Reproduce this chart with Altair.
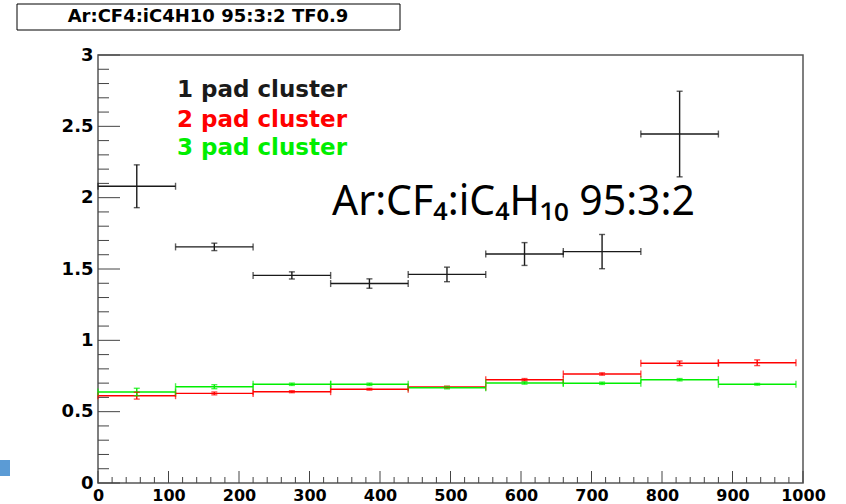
import altair as alt
import pandas as pd

# ---- data ----
bin_lo = [0, 110, 220, 330, 440, 550, 660, 770, 880]
bin_hi = [110, 220, 330, 440, 550, 660, 770, 880, 990]
bin_c = [55, 165, 275, 385, 495, 605, 715, 825, 935]

pad1_y = [2.08, 1.655, 1.455, 1.398, 1.462, 1.605, 1.622, 2.446]
pad1_err = [0.15, 0.026, 0.025, 0.033, 0.051, 0.08, 0.12, 0.30]

pad2_y = [0.612, 0.628, 0.640, 0.657, 0.673, 0.724, 0.764, 0.839, 0.843]
pad2_err = [0.024, 0.010, 0.007, 0.006, 0.006, 0.008, 0.008, 0.016, 0.020]

pad3_y = [0.638, 0.675, 0.692, 0.692, 0.668, 0.701, 0.699, 0.724, 0.692]
pad3_err = [0.026, 0.014, 0.008, 0.008, 0.008, 0.008, 0.008, 0.008, 0.006]

series_names = ["1 pad cluster", "2 pad cluster", "3 pad cluster"]
series_colors = ["#1a1a1a", "#ff0000", "#00ee00"]
legend_baselines = [42, 72, 100]

x_major = [0, 100, 200, 300, 400, 500, 600, 700, 800, 900, 1000]
x_minor = [20, 40, 60, 80, 120, 140, 160, 180, 220, 240, 260, 280, 320, 340, 360, 380,
           420, 440, 460, 480, 520, 540, 560, 580, 620, 640, 660, 680, 720, 740, 760, 780,
           820, 840, 860, 880, 920, 940, 960, 980]
y_major = [0, 0.5, 1, 1.5, 2, 2.5, 3]
y_minor = [0.1, 0.2, 0.3, 0.4, 0.6, 0.7, 0.8, 0.9, 1.1, 1.2, 1.3, 1.4, 1.6, 1.7, 1.8, 1.9,
           2.1, 2.2, 2.3, 2.4, 2.6, 2.7, 2.8, 2.9]

title_text = "Ar:CF4:iC4H10 95:3:2 TF0.9"
annot_text = "Ar:CF\u2084:iC\u2084H\u2081\u2080 95:3:2"

# ---- build table ----
rows = []
for name, ys_, es in [(series_names[0], pad1_y, pad1_err),
                      (series_names[1], pad2_y, pad2_err),
                      (series_names[2], pad3_y, pad3_err)]:
    for i, (y, e) in enumerate(zip(ys_, es)):
        rows.append(dict(series=name, xlo=bin_lo[i], xhi=bin_hi[i], xc=bin_c[i],
                         y=y, ylo=y - e, yhi=y + e))
df = pd.DataFrame(rows)

W, H = 705, 428
FONT = "DejaVu Sans"

xs = alt.Scale(domain=[0, 1000], nice=False, zero=False)
ys = alt.Scale(domain=[0, 3], nice=False, zero=False)

xaxis = alt.Axis(values=x_major, format="d", ticks=False, domain=False, grid=False,
                 labelFont=FONT, labelFontWeight="bold", labelFontSize=16,
                 labelColor="#000", labelPadding=4, title=None, labelFlush=False,
                 labelOverlap=False)
yaxis = alt.Axis(values=y_major, format="~g", ticks=False, domain=False, grid=False,
                 labelFont=FONT, labelFontWeight="bold", labelFontSize=18,
                 labelColor="#000", labelPadding=5, title=None, labelFlush=False,
                 labelOverlap=False)

color = alt.Color("series:N", scale=alt.Scale(domain=series_names, range=series_colors),
                  legend=None)


def X(f):
    return alt.X(f, type="quantitative", scale=xs, axis=xaxis)


def Y(f):
    return alt.Y(f, type="quantitative", scale=ys, axis=yaxis)


base = alt.Chart(df)
SW = 1.4

hbar = base.mark_rule(strokeWidth=SW).encode(x=X("xlo"), x2="xhi", y=Y("y"), color=color)
vbar = base.mark_rule(strokeWidth=SW).encode(x=X("xc"), y=Y("ylo"), y2="yhi", color=color)
cap_l = base.mark_tick(orient="vertical", size=7, thickness=SW).encode(x=X("xlo"), y=Y("y"), color=color)
cap_r = base.mark_tick(orient="vertical", size=7, thickness=SW).encode(x=X("xhi"), y=Y("y"), color=color)
cap_b = base.mark_tick(orient="horizontal", size=6, thickness=SW).encode(x=X("xc"), y=Y("ylo"), color=color)
cap_t = base.mark_tick(orient="horizontal", size=6, thickness=SW).encode(x=X("xc"), y=Y("yhi"), color=color)

# ROOT-style inward ticks
tick_col = "#444"
ymaj = alt.Chart(pd.DataFrame({"v": y_major})).mark_rule(color=tick_col, strokeWidth=1).encode(
    y=Y("v"), x=alt.value(0), x2=alt.value(22))
ymin = alt.Chart(pd.DataFrame({"v": y_minor})).mark_rule(color=tick_col, strokeWidth=1).encode(
    y=Y("v"), x=alt.value(0), x2=alt.value(11))
xmaj = alt.Chart(pd.DataFrame({"v": x_major})).mark_rule(color=tick_col, strokeWidth=1).encode(
    x=X("v"), y=alt.value(H), y2=alt.value(H - 12))
xmin = alt.Chart(pd.DataFrame({"v": x_minor})).mark_rule(color=tick_col, strokeWidth=1).encode(
    x=X("v"), y=alt.value(H), y2=alt.value(H - 6))

# legend text (one text layer per entry)
legend_layers = []
for name, col, yb in zip(series_names, series_colors, legend_baselines):
    legend_layers.append(
        alt.Chart(pd.DataFrame({"t": [name]})).mark_text(
            font=FONT, fontWeight="bold", fontSize=23, align="left",
            baseline="alphabetic", color=col).encode(
            x=alt.value(79), y=alt.value(yb), text="t:N"))

# big annotation
annot = alt.Chart(pd.DataFrame({"t": [annot_text]})).mark_text(
    font="Noto Sans", fontSize=41, align="left", baseline="alphabetic", color="#000").encode(
    x=alt.value(234), y=alt.value(160), text="t:N")

# title box
tbox = alt.Chart(pd.DataFrame({"t": [title_text]})).mark_rect(
    fill="white", stroke="#000", strokeWidth=1).encode(
    x=alt.value(-81), x2=alt.value(302), y=alt.value(-51), y2=alt.value(-25))
ttext = alt.Chart(pd.DataFrame({"t": [title_text]})).mark_text(
    font=FONT, fontWeight="bold", fontSize=18, align="center", baseline="middle",
    color="#000").encode(x=alt.value(110), y=alt.value(-38), text="t:N")

# small blue square (slide artifact)
blue = alt.Chart(pd.DataFrame({"t": ["s"]})).mark_rect(fill="#5b9bd5").encode(
    x=alt.value(-98), x2=alt.value(-88), y=alt.value(405), y2=alt.value(421))

chart = alt.layer(
    ymin, ymaj, xmin, xmaj,
    hbar, cap_l, cap_r, vbar, cap_b, cap_t,
    *legend_layers, annot, tbox, ttext, blue
).properties(
    width=W, height=H,
    autosize=alt.AutoSizeParams(type="none"),
    padding={"left": 98, "top": 55, "right": 43, "bottom": 21},
    background="white",
).configure_view(stroke="#555", strokeWidth=1.5)

chart.save("out.html", embed_options={"renderer": "svg", "actions": False})
